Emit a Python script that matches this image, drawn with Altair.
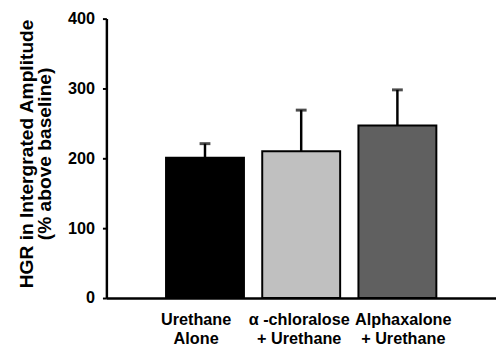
import altair as alt
import pandas as pd

categories = ["Urethane|Alone", "α -chloralose|+ Urethane", "Alphaxalone|+ Urethane"]
means = [201, 210, 247]
errors = [20, 59, 51]
fills = ["#000000", "#c0c0c0", "#606060"]

df = pd.DataFrame({"cat": categories, "mean": means, "err": errors, "fill": fills})
df["top"] = df["mean"] + df["err"]

FONT = "Liberation Sans"

label_offset = {
    "condition": [
        {"test": f"datum.value == '{categories[0]}'", "value": -9},
        {"test": f"datum.value == '{categories[2]}'", "value": 6},
    ],
    "value": -2,
}

x = alt.X("cat:N", sort=None, title=None,
          scale=alt.Scale(paddingInner=0.19, paddingOuter=0.62),
          axis=alt.Axis(labelExpr="split(datum.label, '|')", labelAngle=0,
                        labelFont=FONT, labelFontSize=16.5, labelFontWeight="bold",
                        labelColor="black", labelLineHeight=19, labelPadding=14,
                        labelOffset=label_offset,
                        ticks=False, domainColor="black", domainWidth=2.5,
                        labelBaseline="top"))
y = alt.Y("mean:Q", scale=alt.Scale(domain=[0, 400], nice=False),
          axis=alt.Axis(values=[0, 100, 200, 300, 400], grid=False,
                        title=["HGR in Intergrated Amplitude", "(% above baseline)"],
                        titleFont=FONT, titleFontSize=19.5, titleFontWeight="bold",
                        titleColor="black", titlePadding=13, titleLineHeight=19,
                        titleY=137,
                        labelFont=FONT, labelFontSize=16.5, labelFontWeight="bold",
                        labelColor="black", labelPadding=8,
                        tickSize=4, tickWidth=2, tickColor="black",
                        domainColor="black", domainWidth=2.5))

base = alt.Chart(df)

rule = base.mark_rule(color="black", strokeWidth=2.5).encode(x=x, y=y, y2="top:Q")
cap = base.mark_tick(color="black", size=11, thickness=3).encode(x=x, y="top:Q")
bars = base.mark_bar(stroke="black", strokeWidth=2).encode(
    x=x, y=y, fill=alt.Fill("fill:N", scale=None))

chart = alt.layer(rule, cap, bars).properties(
    width=396, height=284,
    autosize=alt.AutoSizeParams(type="none"),
    padding={"left": 100, "top": 8, "right": 0, "bottom": 48},
).configure_view(stroke=None)

chart.save("out.html", embed_options={"renderer": "svg", "actions": False})
